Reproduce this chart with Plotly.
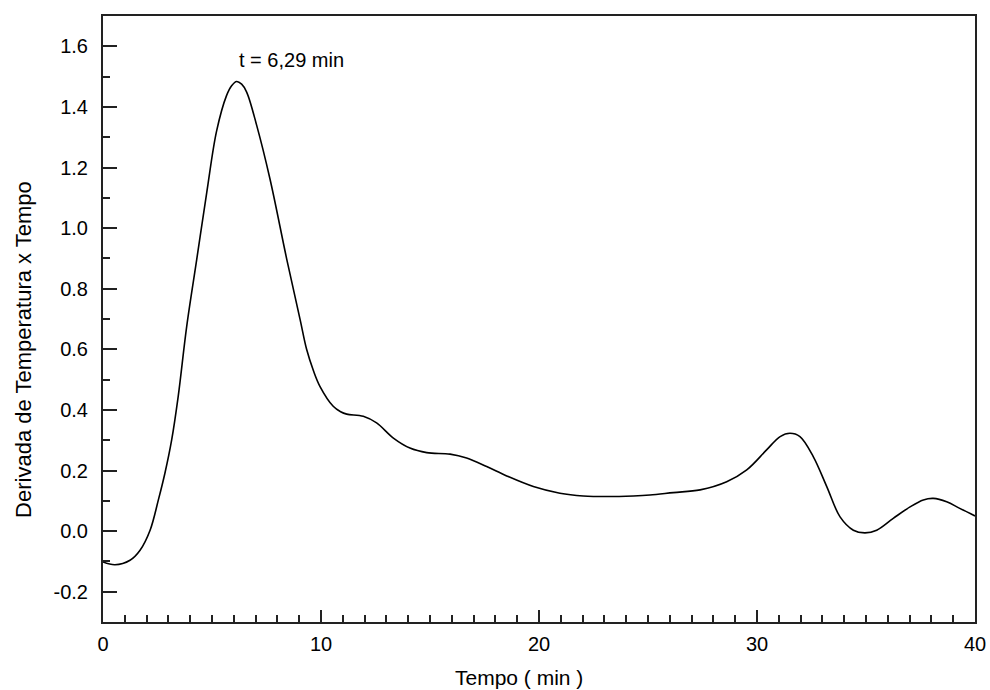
import plotly.graph_objects as go

tempo = [0.0, 0.55, 1.24, 1.70, 2.16, 2.54, 2.84, 3.15, 3.45, 3.84, 4.30, 4.76, 5.21, 5.67,
         5.90, 6.13, 6.36, 6.59, 7.05, 7.66, 8.43, 9.04, 9.34, 9.65, 9.95, 10.56, 10.9,
         11.18, 11.94, 12.55, 13.32, 14.08, 14.85, 15.92, 16.68, 17.6, 18.52, 19.74, 20.96,
         22.03, 23.1, 24.33, 25.09, 26.16, 27.39, 28.61, 29.53, 30.44, 31.06, 31.51, 31.97,
         32.58, 33.2, 33.81, 34.42, 34.95, 35.49, 36.25, 37.02, 37.63, 38.09, 38.7, 39.3, 40.0]
derivada = [-0.102, -0.111, -0.096, -0.063, 0.003, 0.103, 0.191, 0.301, 0.445, 0.676, 0.897,
            1.118, 1.32, 1.438, 1.470, 1.484, 1.475, 1.449, 1.339, 1.162, 0.897, 0.699, 0.600,
            0.530, 0.478, 0.412, 0.394, 0.386, 0.379, 0.357, 0.307, 0.274, 0.259, 0.254, 0.241,
            0.213, 0.182, 0.147, 0.125, 0.116, 0.114, 0.116, 0.119, 0.127, 0.136, 0.163, 0.202,
            0.268, 0.312, 0.323, 0.312, 0.246, 0.147, 0.047, 0.003, -0.006, 0.003, 0.042, 0.080,
            0.103, 0.108, 0.097, 0.075, 0.050]

y_tickvals = [-0.2, 0.0, 0.2, 0.4, 0.6, 0.8, 1.0, 1.2, 1.4, 1.6]
y_ticktext = ["-0.2", "0.0", "0.2", "0.4", "0.6", "0.8", "1.0", "1.2", "1.4", "1.6"]
x_tickvals = [0, 10, 20, 30, 40]
x_ticktext = ["0", "10", "20", "30", "40"]

annot_text = "t = 6,29 min"
annot_x = 8.65
annot_y = 1.556

x_title = "Tempo ( min )"
y_title = "Derivada de Temperatura x Tempo"

FONT = "Liberation Sans, Arial, sans-serif"
AX = "#222"

fig = go.Figure()
fig.add_trace(go.Scatter(x=tempo, y=derivada, mode="lines",
                         line=dict(color="black", width=1.6, shape="spline", smoothing=1.0),
                         showlegend=False, hoverinfo="skip"))

fig.add_annotation(x=annot_x, y=annot_y, text=annot_text, showarrow=False,
                   font=dict(family=FONT, size=20, color="black"))
fig.add_annotation(xref="paper", yref="paper", x=0.477, y=0, yshift=-55, text=x_title,
                   showarrow=False, xanchor="center", yanchor="middle",
                   font=dict(family=FONT, size=21, color="black"))
fig.add_annotation(xref="paper", yref="paper", x=0, xshift=-79, y=0.449, text=y_title,
                   textangle=-90, showarrow=False, xanchor="center", yanchor="middle",
                   font=dict(family=FONT, size=22, color="black"))

fig.update_layout(
    width=990, height=690,
    margin=dict(l=103, r=15, t=16, b=68, autoexpand=False),
    paper_bgcolor="white", plot_bgcolor="white",
    font=dict(family=FONT, size=20, color="black"),
)
fig.update_xaxes(range=[0, 40], tickvals=x_tickvals, ticktext=x_ticktext,
                 showgrid=False, zeroline=False, automargin=False,
                 showline=True, linecolor=AX, linewidth=2, mirror=True,
                 ticks="inside", ticklen=12, tickwidth=2, tickcolor=AX,
                 minor=dict(ticks="inside", dtick=1, tick0=0, ticklen=7, tickwidth=2,
                            tickcolor=AX, showgrid=False),
                 ticklabelstandoff=3, tickfont=dict(size=20))
fig.update_yaxes(range=[-0.3, 1.7], tickvals=y_tickvals, ticktext=y_ticktext,
                 showgrid=False, zeroline=False, automargin=False,
                 showline=True, linecolor=AX, linewidth=2, mirror=True,
                 ticks="inside", ticklen=14, tickwidth=2, tickcolor=AX,
                 minor=dict(ticks="inside", dtick=0.1, tick0=0, ticklen=7, tickwidth=2,
                            tickcolor=AX, showgrid=False),
                 ticklabelstandoff=9, tickfont=dict(size=20))

fig.write_html("out.html")
